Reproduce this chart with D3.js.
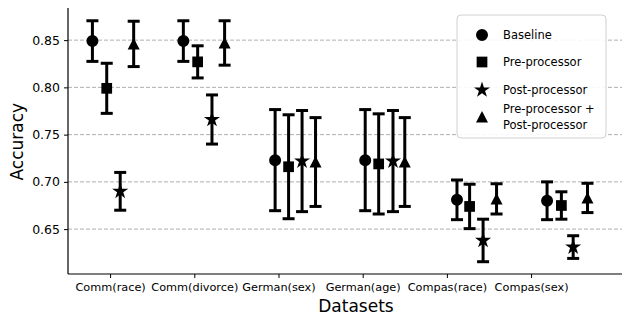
<!DOCTYPE html>
<html>
<head>
<meta charset="utf-8">
<script src="https://cdn.jsdelivr.net/npm/d3@7"></script>
<style>
  body { margin: 0; background: #fff; }
  text { font-family: "DejaVu Sans", sans-serif; fill: #000; }
</style>
</head>
<body>
<div id="chart"></div>
<script>
// Data
var datasets = ["Comm(race)", "Comm(divorce)", "German(sex)", "German(age)", "Compas(race)", "Compas(sex)"];
var seriesNames = ["Baseline", "Pre-processor", "Post-processor", "Pre-processor + Post-processor"];
var yTicks = [0.65, 0.70, 0.75, 0.80, 0.85];

// x position of each marker, in dataset units (markers sit off the ticks)
var baselineX = [-0.21, 0.87, 1.96, 3.03, 4.12, 5.19];
var preX      = [-0.04, 1.04, 2.12, 3.19, 4.27, 5.36];
var postX     = [0.12, 1.21, 2.28, 3.36, 4.43, 5.50];
var bothX     = [0.28, 1.36, 2.44, 3.50, 4.59, 5.67];

// mean accuracy
var baselineMean = [0.849, 0.849, 0.723, 0.723, 0.681, 0.680];
var preMean      = [0.799, 0.827, 0.716, 0.719, 0.674, 0.675];
var postMean     = [0.690, 0.766, 0.722, 0.722, 0.638, 0.631];
var bothMean     = [0.846, 0.847, 0.721, 0.721, 0.682, 0.683];

// half-width of the error bar
var baselineErr = [0.0215, 0.0215, 0.0535, 0.0535, 0.021, 0.020];
var preErr      = [0.0265, 0.017, 0.055, 0.053, 0.0235, 0.0145];
var postErr     = [0.020, 0.026, 0.0535, 0.0535, 0.0225, 0.012];
var bothErr     = [0.024, 0.0235, 0.047, 0.047, 0.016, 0.0155];

var seriesX = [baselineX, preX, postX, bothX];
var seriesMean = [baselineMean, preMean, postMean, bothMean];
var seriesErr = [baselineErr, preErr, postErr, bothErr];

var svgWidth = 622;
var svgHeight = 316;

var chartMargin = { top: 8, right: 0, bottom: 42, left: 68 };

var chartWidth = svgWidth - chartMargin.left - chartMargin.right;
var chartHeight = svgHeight - chartMargin.top - chartMargin.bottom;

var svg = d3.select("#chart")
    .append("svg")
    .attr("width", svgWidth)
    .attr("height", svgHeight);

var chartGroup = svg.append("g")
    .attr("transform", `translate(${chartMargin.left}, ${chartMargin.top})`);

var xScale = d3.scaleLinear().domain([-0.5, 6.08]).range([0, chartWidth]);
var yScale = d3.scaleLinear().domain([0.6025, 0.884]).range([chartHeight, 0]);

// dashed horizontal grid
chartGroup.append("g")
    .selectAll("line")
    .data(yTicks)
    .enter()
    .append("line")
    .attr("x1", 0)
    .attr("x2", chartWidth)
    .attr("y1", d => yScale(d))
    .attr("y2", d => yScale(d))
    .attr("stroke", "#b0b0b0")
    .attr("stroke-width", 1)
    .attr("stroke-dasharray", "4,2");

// axes
var yAxis = d3.axisLeft(yScale)
    .tickValues(yTicks)
    .tickFormat(d3.format(".2f"))
    .tickSize(4)
    .tickPadding(4);

var xAxis = d3.axisBottom(xScale)
    .tickValues(d3.range(datasets.length))
    .tickFormat(i => datasets[i])
    .tickSize(4)
    .tickPadding(5);

var yAxisG = chartGroup.append("g").call(yAxis);
yAxisG.select(".domain").attr("d", `M0,0V${chartHeight}`).attr("stroke", "#000").attr("stroke-width", 1.2);
yAxisG.selectAll("text").style("font-size", "12.5px");

var xAxisG = chartGroup.append("g")
    .attr("transform", `translate(0, ${chartHeight})`)
    .call(xAxis);
xAxisG.select(".domain").attr("d", `M0,0H${chartWidth}`).attr("stroke", "#000").attr("stroke-width", 1.2);
xAxisG.selectAll("text").style("font-size", "11.3px");

// marker shapes
var circlePath = d3.symbol().type(d3.symbolCircle).size(113)();
var squarePath = d3.symbol().type(d3.symbolSquare).size(115)();
var starPath = d3.symbol().type(d3.symbolStar).size(80)();
var triPath = "M0,-6L6,5.5L-6,5.5Z";
var markerPaths = [circlePath, squarePath, starPath, triPath];

var capHalf = 6;

seriesNames.forEach(function(name, s) {
    var pts = datasets.map(function(d, i) {
        return { x: seriesX[s][i], y: seriesMean[s][i], e: seriesErr[s][i] };
    });

    var g = chartGroup.append("g").attr("class", "series-" + s);

    // error bars
    var bars = g.selectAll(".err")
        .data(pts)
        .enter()
        .append("g")
        .attr("stroke", "#000")
        .attr("stroke-width", 3);

    bars.append("line")
        .attr("x1", d => xScale(d.x))
        .attr("x2", d => xScale(d.x))
        .attr("y1", d => yScale(d.y + d.e))
        .attr("y2", d => yScale(d.y - d.e));

    bars.append("line")
        .attr("x1", d => xScale(d.x) - capHalf)
        .attr("x2", d => xScale(d.x) + capHalf)
        .attr("y1", d => yScale(d.y + d.e))
        .attr("y2", d => yScale(d.y + d.e));

    bars.append("line")
        .attr("x1", d => xScale(d.x) - capHalf)
        .attr("x2", d => xScale(d.x) + capHalf)
        .attr("y1", d => yScale(d.y - d.e))
        .attr("y2", d => yScale(d.y - d.e));

    // markers
    g.selectAll(".mk")
        .data(pts)
        .enter()
        .append("path")
        .attr("d", markerPaths[s])
        .attr("transform", d => `translate(${xScale(d.x)}, ${yScale(d.y)})`)
        .attr("fill", "#000");
});

// axis labels
chartGroup.append("text")
    .attr("transform", "rotate(-90)")
    .attr("x", 0 - yScale(0.7425) )
    .attr("y", -45)
    .attr("text-anchor", "middle")
    .style("font-size", "17px")
    .text("Accuracy");

chartGroup.append("text")
    .attr("x", xScale(2.92))
    .attr("y", chartHeight + 38)
    .attr("text-anchor", "middle")
    .style("font-size", "17px")
    .text("Datasets");

// legend
var legend = svg.append("g").attr("transform", "translate(457, 15)");

legend.append("rect")
    .attr("width", 149)
    .attr("height", 123)
    .attr("rx", 4)
    .attr("fill", "#fff")
    .attr("fill-opacity", 0.9)
    .attr("stroke", "#d0d0d0");

var legendRows = [
    { lines: ["Baseline"], y: 20 },
    { lines: ["Pre-processor"], y: 47 },
    { lines: ["Post-processor"], y: 75 },
    { lines: ["Pre-processor +", "Post-processor"], y: 102 }
];

legendRows.forEach(function(row, s) {
    legend.append("path")
        .attr("d", markerPaths[s])
        .attr("transform", `translate(25, ${row.y})`)
        .attr("fill", "#000");

    var t = legend.append("text")
        .attr("x", 46)
        .attr("y", row.y - (row.lines.length - 1) * 8)
        .style("font-size", "11.5px");

    row.lines.forEach(function(line, k) {
        t.append("tspan")
            .attr("x", 46)
            .attr("dy", k === 0 ? "0.35em" : "16")
            .text(line);
    });
});
</script>
</body>
</html>
